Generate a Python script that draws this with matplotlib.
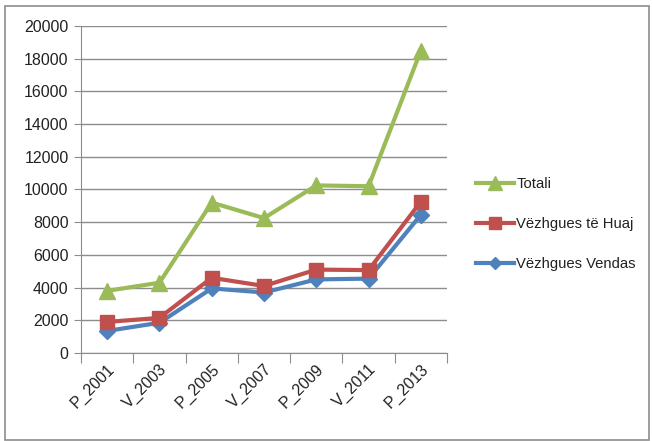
import matplotlib
matplotlib.use("Agg")
import matplotlib.pyplot as plt
from matplotlib.patches import Rectangle

categories = ["P_2001", "V_2003", "P_2005", "V_2007", "P_2009", "V_2011", "P_2013"]
totali = [3800, 4300, 9200, 8250, 10250, 10200, 18500]
huaj = [1900, 2150, 4600, 4100, 5100, 5070, 9250]
vendas = [1350, 1850, 3950, 3700, 4500, 4550, 8450]
yticks = list(range(0, 20001, 2000))

plt.rcParams['font.family'] = ['Liberation Sans', 'DejaVu Sans']

fig = plt.figure(figsize=(6.53, 4.41), dpi=100)
ax = fig.add_axes([81/653, 1-353/441, (447-81)/653, (353-26)/441])

x = list(range(len(categories)))
ax.plot(x, vendas, color='#4F81BD', lw=3, marker='D', ms=8, label='Vëzhgues Vendas', zorder=3)
ax.plot(x, huaj, color='#C0504D', lw=3, marker='s', ms=10, label='Vëzhgues të Huaj', zorder=4)
ax.plot(x, totali, color='#9BBB59', lw=3, marker='^', ms=12, label='Totali', zorder=5)

ax.set_xlim(-0.5, len(categories)-0.5)
ax.set_ylim(0, 20000)
ax.set_yticks(yticks)
ax.set_yticklabels([str(v) for v in yticks], fontsize=11.5, color='#222222')
ax.yaxis.grid(True, color='#8c8c8c', lw=1)
ax.set_axisbelow(True)

ax.set_xticks([i - 0.5 for i in range(len(categories)+1)])
ax.set_xticklabels([])
ax.set_xticks(x, minor=True)
ax.set_xticklabels(categories, minor=True, rotation=45, ha='right', va='top',
                   rotation_mode='anchor', fontsize=11.5, color='#222222')
ax.tick_params(axis='x', which='major', length=7, color='#8c8c8c', direction='out')
ax.tick_params(axis='x', which='minor', length=0, pad=6)
ax.tick_params(axis='y', length=5, color='#8c8c8c', pad=4)

for s in ['top', 'right']:
    ax.spines[s].set_visible(False)
for s in ['left', 'bottom']:
    ax.spines[s].set_color('#8c8c8c')

h, l = ax.get_legend_handles_labels()
fig.legend(h[::-1], l[::-1], loc='upper left', bbox_to_anchor=(463/653, 1-164/441),
           frameon=False, fontsize=10.7, handlelength=2.5, labelspacing=1.75,
           handletextpad=0.2, markerscale=0.8, labelcolor='#222222')

fig.add_artist(Rectangle((5/653, 1/441), 644/653, 434/441, transform=fig.transFigure,
                         fill=False, edgecolor='#8c8c8c', lw=1.2))

fig.savefig('out.png', dpi=100)
